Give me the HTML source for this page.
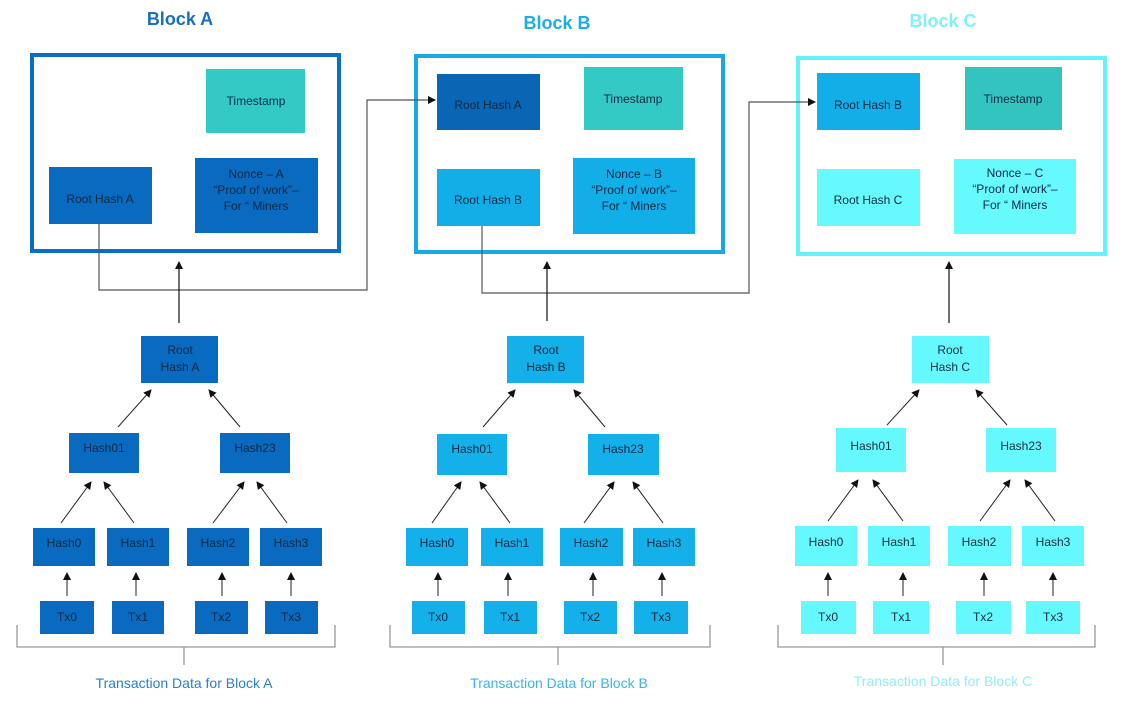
<!DOCTYPE html>
<html><head><meta charset="utf-8"><style>
html,body{margin:0;padding:0;background:#fff;}
svg{display:block;font-family:"Liberation Sans",sans-serif;}
</style></head><body>
<svg width="1132" height="703" viewBox="0 0 1132 703" xmlns="http://www.w3.org/2000/svg">
<defs>
<marker id="ar" markerWidth="8" markerHeight="8" refX="7" refY="4" orient="auto" markerUnits="userSpaceOnUse">
<path d="M0,0 L8,4 L0,8 z" fill="#111"/></marker>
</defs>
<!-- Titles -->
<g font-size="18" font-weight="bold" text-anchor="middle">
<text x="180" y="25" fill="#1a6fbf">Block A</text>
<text x="557" y="29" fill="#1aaee8">Block B</text>
<text x="943" y="27" fill="#80f2f8">Block C</text>
</g>
<!-- Block boxes -->
<rect x="32" y="55" width="307" height="196" fill="none" stroke="#0a6fc2" stroke-width="4"/>
<rect x="416" y="56" width="307" height="196" fill="none" stroke="#1aa8e4" stroke-width="4"/>
<rect x="798" y="58" width="307" height="196" fill="none" stroke="#66f2fa" stroke-width="4"/>
<g font-size="12" text-anchor="middle" fill="#0d2a45">
<!-- Block A content -->
<rect x="206" y="69" width="99" height="64" fill="#33c9c4"/>
<text x="256" y="105">Timestamp</text>
<rect x="49" y="167" width="103" height="57" fill="#0a6abf"/>
<text x="100" y="203">Root Hash A</text>
<rect x="195" y="158" width="123" height="75" fill="#0a6abf"/>
<text x="256" y="178">Nonce – A</text><text x="256" y="194">“Proof of work”–</text><text x="256" y="210">For “ Miners</text>
<!-- Block B -->
<rect x="437" y="74" width="103" height="56" fill="#0a66b5"/>
<text x="488" y="109">Root Hash A</text>
<rect x="584" y="67" width="99" height="63" fill="#33c9c4"/>
<text x="633" y="103">Timestamp</text>
<rect x="437" y="169" width="103" height="57" fill="#12aee8"/>
<text x="488" y="204">Root Hash B</text>
<rect x="573" y="158" width="122" height="76" fill="#12aee8"/>
<text x="634" y="178">Nonce – B</text><text x="634" y="194">“Proof of work”–</text><text x="634" y="210">For “ Miners</text>
<!-- Block C -->
<rect x="817" y="73" width="103" height="57" fill="#12aee8"/>
<text x="868" y="109">Root Hash B</text>
<rect x="965" y="67" width="97" height="63" fill="#33c4c0"/>
<text x="1013" y="103">Timestamp</text>
<rect x="817" y="169" width="103" height="57" fill="#66faff"/>
<text x="868" y="204">Root Hash C</text>
<rect x="954" y="159" width="122" height="75" fill="#66faff"/>
<text x="1015" y="177">Nonce – C</text><text x="1015" y="193">“Proof of work”–</text><text x="1015" y="209">For “ Miners</text>
</g>
<!-- connectors between blocks -->
<g fill="none" stroke="#555" stroke-width="1.2">
<path d="M99,224 V290 H367 V100 H435" marker-end="url(#ar)"/>
<path d="M482,226 V293 H749 V102 H815" marker-end="url(#ar)"/>
</g>
<g stroke="#111" stroke-width="1.2" fill="none">
<line x1="179" y1="323" x2="179" y2="262" marker-end="url(#ar)"/>
<line x1="547" y1="321" x2="547" y2="262" marker-end="url(#ar)"/>
<line x1="949" y1="323" x2="949" y2="262" marker-end="url(#ar)"/>
</g>
<!-- Tree A -->
<g font-size="12" text-anchor="middle" fill="#0d2a45">
<g fill="#0a6abf">
<rect x="141" y="336" width="77" height="47"/>
<rect x="69" y="433" width="70" height="40"/><rect x="220" y="433" width="70" height="40"/>
<rect x="33" y="528" width="62" height="38"/><rect x="107" y="528" width="62" height="38"/>
<rect x="187" y="528" width="62" height="38"/><rect x="260" y="528" width="62" height="38"/>
<rect x="40" y="601" width="54" height="33"/><rect x="112" y="601" width="52" height="33"/>
<rect x="195" y="601" width="53" height="33"/><rect x="265" y="601" width="53" height="33"/>
</g>
<text x="180" y="354">Root</text><text x="180" y="371">Hash A</text>
<text x="104" y="452">Hash01</text><text x="255" y="452">Hash23</text>
<text x="64" y="547">Hash0</text><text x="138" y="547">Hash1</text><text x="218" y="547">Hash2</text><text x="291" y="547">Hash3</text>
<text x="67" y="621">Tx0</text><text x="138" y="621">Tx1</text><text x="221" y="621">Tx2</text><text x="291" y="621">Tx3</text>
</g>
<g stroke="#222" stroke-width="1" fill="none">
<line x1="118" y1="427" x2="151" y2="390" marker-end="url(#ar)"/>
<line x1="240" y1="427" x2="209" y2="390" marker-end="url(#ar)"/>
<line x1="61" y1="523" x2="91" y2="482" marker-end="url(#ar)"/>
<line x1="134" y1="523" x2="104" y2="482" marker-end="url(#ar)"/>
<line x1="213" y1="523" x2="244" y2="482" marker-end="url(#ar)"/>
<line x1="287" y1="523" x2="257" y2="482" marker-end="url(#ar)"/>
<line x1="67" y1="596" x2="67" y2="573" marker-end="url(#ar)"/>
<line x1="136" y1="596" x2="136" y2="573" marker-end="url(#ar)"/>
<line x1="222" y1="596" x2="222" y2="573" marker-end="url(#ar)"/>
<line x1="291" y1="596" x2="291" y2="573" marker-end="url(#ar)"/>
</g>
<path d="M17,625 V647 H335 V625 M184,647 V665" stroke="#999" stroke-width="1.3" fill="none"/>
<text x="184" y="688" font-size="14" text-anchor="middle" fill="#2a7fd0">Transaction Data for Block A</text>
<!-- Tree B -->
<g font-size="12" text-anchor="middle" fill="#0d2a45">
<g fill="#14b0ea">
<rect x="507" y="336" width="77" height="47"/>
<rect x="437" y="434" width="70" height="41"/><rect x="588" y="434" width="71" height="41"/>
<rect x="406" y="528" width="62" height="38"/><rect x="481" y="528" width="62" height="38"/>
<rect x="560" y="528" width="63" height="38"/><rect x="633" y="528" width="62" height="38"/>
<rect x="412" y="601" width="53" height="33"/><rect x="484" y="601" width="53" height="33"/>
<rect x="564" y="601" width="53" height="33"/><rect x="634" y="601" width="54" height="33"/>
</g>
<text x="546" y="354">Root</text><text x="546" y="371">Hash B</text>
<text x="472" y="453">Hash01</text><text x="623" y="453">Hash23</text>
<text x="437" y="547">Hash0</text><text x="512" y="547">Hash1</text><text x="591" y="547">Hash2</text><text x="664" y="547">Hash3</text>
<text x="438" y="621">Tx0</text><text x="510" y="621">Tx1</text><text x="590" y="621">Tx2</text><text x="661" y="621">Tx3</text>
</g>
<g stroke="#222" stroke-width="1" fill="none">
<line x1="483" y1="427" x2="515" y2="390" marker-end="url(#ar)"/>
<line x1="605" y1="427" x2="574" y2="390" marker-end="url(#ar)"/>
<line x1="432" y1="523" x2="461" y2="482" marker-end="url(#ar)"/>
<line x1="510" y1="523" x2="480" y2="482" marker-end="url(#ar)"/>
<line x1="584" y1="523" x2="614" y2="482" marker-end="url(#ar)"/>
<line x1="663" y1="523" x2="633" y2="482" marker-end="url(#ar)"/>
<line x1="438" y1="596" x2="438" y2="573" marker-end="url(#ar)"/>
<line x1="508" y1="596" x2="508" y2="573" marker-end="url(#ar)"/>
<line x1="593" y1="596" x2="593" y2="573" marker-end="url(#ar)"/>
<line x1="662" y1="596" x2="662" y2="573" marker-end="url(#ar)"/>
</g>
<path d="M390,625 V647 H710 V625 M558,647 V665" stroke="#999" stroke-width="1.3" fill="none"/>
<text x="559" y="688" font-size="14" text-anchor="middle" fill="#3ab4e8">Transaction Data for Block B</text>
<!-- Tree C -->
<g font-size="12" text-anchor="middle" fill="#1a2f3f">
<g fill="#66f8ff">
<rect x="912" y="336" width="77" height="47"/>
<rect x="836" y="428" width="70" height="44"/><rect x="986" y="428" width="70" height="44"/>
<rect x="795" y="526" width="62" height="40"/><rect x="868" y="526" width="62" height="40"/>
<rect x="948" y="526" width="63" height="40"/><rect x="1022" y="526" width="62" height="40"/>
<rect x="801" y="601" width="55" height="33"/><rect x="873" y="601" width="56" height="33"/>
<rect x="956" y="601" width="55" height="33"/><rect x="1026" y="601" width="54" height="33"/>
</g>
<text x="950" y="354">Root</text><text x="950" y="371">Hash C</text>
<text x="871" y="450">Hash01</text><text x="1021" y="450">Hash23</text>
<text x="826" y="546">Hash0</text><text x="899" y="546">Hash1</text><text x="979" y="546">Hash2</text><text x="1053" y="546">Hash3</text>
<text x="828" y="621">Tx0</text><text x="901" y="621">Tx1</text><text x="983" y="621">Tx2</text><text x="1053" y="621">Tx3</text>
</g>
<g stroke="#222" stroke-width="1" fill="none">
<line x1="887" y1="425" x2="919" y2="390" marker-end="url(#ar)"/>
<line x1="1007" y1="425" x2="976" y2="390" marker-end="url(#ar)"/>
<line x1="828" y1="521" x2="858" y2="480" marker-end="url(#ar)"/>
<line x1="903" y1="521" x2="873" y2="480" marker-end="url(#ar)"/>
<line x1="980" y1="521" x2="1010" y2="480" marker-end="url(#ar)"/>
<line x1="1055" y1="521" x2="1025" y2="480" marker-end="url(#ar)"/>
<line x1="828" y1="596" x2="828" y2="573" marker-end="url(#ar)"/>
<line x1="903" y1="596" x2="903" y2="573" marker-end="url(#ar)"/>
<line x1="984" y1="596" x2="984" y2="573" marker-end="url(#ar)"/>
<line x1="1053" y1="596" x2="1053" y2="573" marker-end="url(#ar)"/>
</g>
<path d="M778,625 V647 H1095 V625 M943,647 V665" stroke="#999" stroke-width="1.3" fill="none"/>
<text x="943" y="686" font-size="14" text-anchor="middle" fill="#8ef0f6">Transaction Data for Block C</text>
</svg>
</body></html>
